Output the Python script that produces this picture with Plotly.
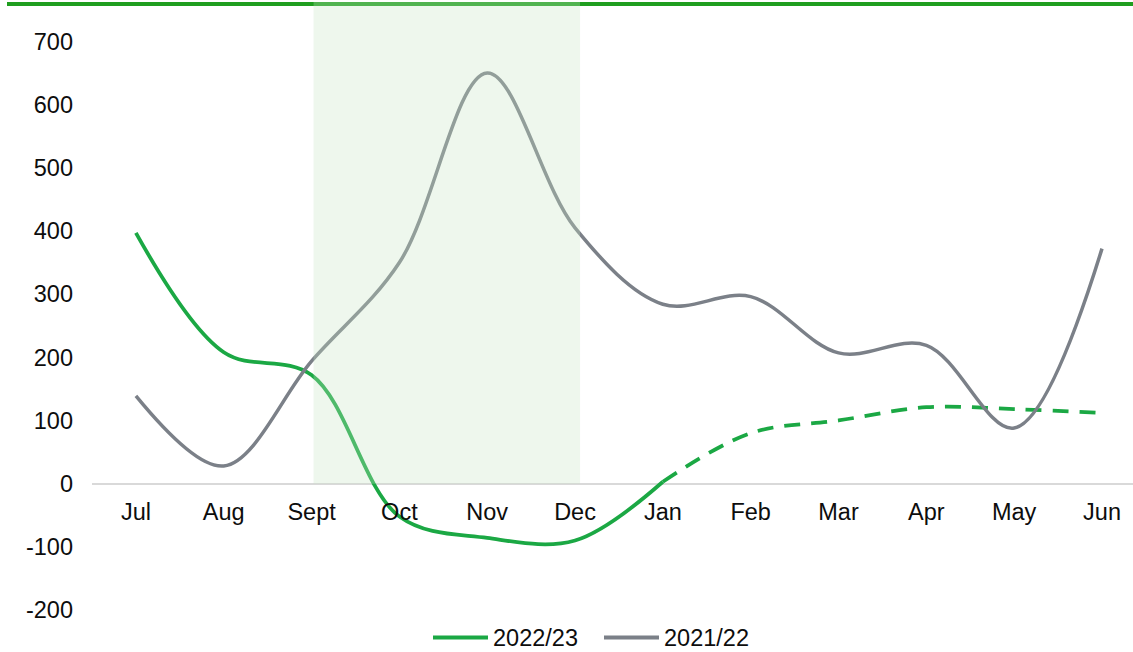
import plotly.graph_objects as go

months = ["Jul", "Aug", "Sept", "Oct", "Nov", "Dec", "Jan", "Feb", "Mar", "Apr", "May", "Jun"]
s2223_actual = [397, 208, 172, -52, -86, -90, 3]          # Jul..Jan (solid)
s2223_forecast = [3, 80, 100, 121, 118, 112]              # Jan..Jun (dashed)
s2122 = [139, 28, 194, 350, 650, 405, 284, 296, 207, 219, 88, 372]
series_names = ["2022/23", "2021/22"]
shade_span = ["Sept", "Dec"]
y_ticks = [-200, -100, 0, 100, 200, 300, 400, 500, 600, 700]
y_tick_labels = [str(v) for v in y_ticks]

W, H = 1133, 652
L, R, T, B = 92, 0, 2, 42
PW, PH = W - L - R, H - T - B

GREEN = "#1BA844"
GRAY = "#7B8088"
FONT = dict(family="Liberation Sans, Arial, sans-serif", size=23.5, color="#0D0D0D")

def px_x(px):
    return (px - L) / PW

def px_y(py):
    return (H - B - py) / PH

fig = go.Figure()
fig.add_trace(go.Scatter(
    x=months[:len(s2223_actual)], y=s2223_actual, mode="lines",
    line=dict(color=GREEN, width=3.75, shape="spline", smoothing=1.0),
    name=series_names[0], showlegend=False))
fig.add_trace(go.Scatter(
    x=months[len(s2223_actual) - 1:], y=s2223_forecast, mode="lines",
    line=dict(color=GREEN, width=3.75, shape="spline", smoothing=1.0, dash="16px,11px"),
    name=series_names[0] + " (forecast)", showlegend=False))
fig.add_trace(go.Scatter(
    x=months, y=s2122, mode="lines",
    line=dict(color=GRAY, width=3.5, shape="spline", smoothing=1.0),
    name=series_names[1], showlegend=False))

step = (1102 - 136) / 11.0
x_right = (W - 136) / step
x0_shade = months.index(shade_span[0]) + (314 - 312) / step
x1_shade = months.index(shade_span[1]) + (581 - 576) / step
y_top = 482 / 0.6322
y_bottom = -200

shapes = [
    # top rule
    dict(type="line", xref="paper", yref="paper", x0=px_x(7), x1=px_x(W + 5),
         y0=px_y(4), y1=px_y(4), line=dict(color="#1F9E1F", width=4), layer="above"),
    # shaded period
    dict(type="rect", xref="x", yref="y", x0=x0_shade, x1=x1_shade, y0=0, y1=y_top,
         fillcolor="rgba(198,230,195,0.3)", line=dict(width=0), layer="above"),
]

annotations = []
# manual legend
legend_y = 637.5
for (x0, x1, tx, color, name) in [(433, 488, 491, GREEN, series_names[0]),
                                   (604, 659, 662, GRAY, series_names[1])]:
    shapes.append(dict(type="line", xref="paper", yref="paper", x0=px_x(x0), x1=px_x(x1),
                       y0=px_y(legend_y), y1=px_y(legend_y), line=dict(color=color, width=4)))
    annotations.append(dict(xref="paper", yref="paper", x=px_x(tx), y=px_y(legend_y),
                            text=name, showarrow=False, xanchor="left", yanchor="middle",
                            font=FONT))

fig.update_layout(
    width=W, height=H,
    margin=dict(l=L, r=R, t=T, b=B, autoexpand=False),
    plot_bgcolor="white", paper_bgcolor="white",
    font=FONT,
    showlegend=False,
    shapes=shapes,
    annotations=annotations,
    xaxis=dict(type="category", range=[-0.5, x_right], showgrid=False, showline=False,
               zeroline=False, ticks="", anchor="free", position=(0 - y_bottom) / (y_top - y_bottom),
               ticklabelstandoff=12, tickfont=FONT, fixedrange=True),
    yaxis=dict(range=[y_bottom, y_top], tickvals=y_ticks, ticktext=y_tick_labels,
               showgrid=False, showline=False,
               zeroline=True, zerolinecolor="#D9D9D9", zerolinewidth=2,
               ticks="", ticklabelstandoff=18, tickfont=FONT, fixedrange=True),
)

fig.write_html("out.html", config={"displayModeBar": False},
               post_script="document.body.style.margin='0';document.body.style.overflow='hidden';")
